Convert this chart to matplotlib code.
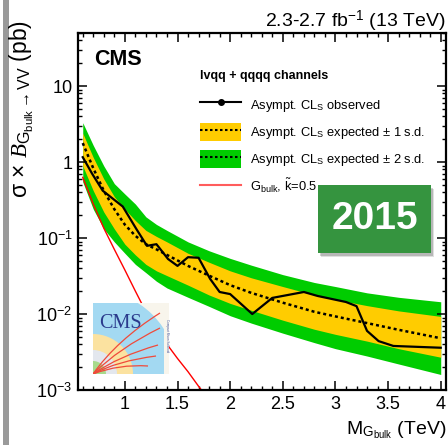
import numpy as np
import matplotlib.pyplot as plt
from matplotlib.patches import Patch, Rectangle, FancyBboxPatch, Wedge, PathPatch
from matplotlib.lines import Line2D
from matplotlib.path import Path
from matplotlib.ticker import (FixedLocator, FixedFormatter, MultipleLocator,
                               LogLocator, NullFormatter, FormatStrFormatter)

plt.rcParams['font.family'] = ['Liberation Sans', 'DejaVu Sans']
plt.rcParams['mathtext.fontset'] = 'custom'
plt.rcParams['mathtext.rm'] = 'Liberation Sans'
plt.rcParams['mathtext.it'] = 'Liberation Serif:italic'
plt.rcParams['mathtext.bf'] = 'Liberation Sans:bold'

# observed limit (pb)
mass_obs = [0.60, 0.69, 0.79, 0.98, 1.11, 1.21, 1.30, 1.41, 1.50, 1.60, 1.70, 1.81,
            1.90, 2.00, 2.21, 2.40, 2.70, 2.83, 3.10, 3.20, 3.30, 3.41, 3.55, 4.00]
observed = [1.16, 0.70, 0.42, 0.26, 0.131, 0.079, 0.083, 0.053, 0.043, 0.056, 0.055, 0.029,
            0.0195, 0.0183, 0.0100, 0.0163, 0.0195, 0.0173, 0.0144, 0.0127, 0.0060, 0.0044,
            0.0038, 0.0036]

# expected limit and bands (pb)
mass_exp = [0.6, 0.7, 0.8, 0.9, 1.0, 1.1, 1.2, 1.3, 1.4, 1.6, 1.8, 2.0, 2.2, 2.5, 2.8,
            3.0, 3.3, 3.6, 4.0]
expected = [1.78, 0.83, 0.42, 0.24, 0.15, 0.107, 0.083, 0.071, 0.060, 0.043, 0.032, 0.024,
            0.019, 0.0141, 0.0107, 0.0093, 0.0076, 0.0062, 0.0048]
two_sd_hi = [3.3, 1.66, 0.89, 0.52, 0.38, 0.28, 0.19, 0.151, 0.126, 0.089, 0.068, 0.054,
             0.044, 0.033, 0.026, 0.023, 0.019, 0.0166, 0.0145]
one_sd_hi = [2.4, 1.15, 0.60, 0.35, 0.24, 0.17, 0.126, 0.105, 0.089, 0.063, 0.048, 0.037,
             0.030, 0.023, 0.0178, 0.0155, 0.0129, 0.011, 0.0093]
one_sd_lo = [0.89, 0.42, 0.22, 0.132, 0.083, 0.060, 0.045, 0.037, 0.032, 0.024, 0.0178,
             0.0138, 0.0112, 0.0083, 0.0063, 0.0054, 0.0044, 0.0035, 0.0027]
two_sd_lo = [0.55, 0.24, 0.132, 0.089, 0.063, 0.045, 0.035, 0.027, 0.022, 0.0166, 0.0126,
             0.0095, 0.0076, 0.0056, 0.0042, 0.0035, 0.0028, 0.0022, 0.0016]

# Gbulk theory, k=0.5 (pb)
mass_th = [0.6, 0.7, 0.8, 0.9, 1.0, 1.1, 1.2, 1.3, 1.4, 1.5, 1.6, 1.7, 1.8]
theory = [0.63, 0.28, 0.135, 0.071, 0.038, 0.020, 0.0107, 0.0063, 0.0040, 0.0026,
          0.00174, 0.00112, 0.00074]

y_ticks = [1e-3, 1e-2, 1e-1, 1, 10]
y_labels = ['$10^{-3}$', '$10^{-2}$', '$10^{-1}$', '1', '10']

GREEN = '#00cc00'
ORANGE = '#ffcc00'

W, H = 448, 445
fig = plt.figure(figsize=(W / 100, H / 100), dpi=100)
ax = fig.add_axes([78 / W, 1 - 390 / H, (446 - 78) / W, (390 - 33) / H])

ax.fill_between(mass_exp, two_sd_lo, two_sd_hi, color=GREEN, lw=0)
ax.fill_between(mass_exp, one_sd_lo, one_sd_hi, color=ORANGE, lw=0)
ax.plot(mass_exp, expected, color='k', lw=1.8, ls=(0, (1.2, 1.2)))
ax.plot(mass_obs, observed, color='k', lw=1.6)
ax.plot(mass_th, theory, color='#ff0000', lw=1.0)

ax.set_yscale('log')
ax.set_xlim(0.555, 4.05)
ax.set_ylim(1e-3, 50)
ax.yaxis.set_major_locator(FixedLocator(y_ticks))
ax.yaxis.set_major_formatter(FixedFormatter(y_labels))
ax.yaxis.set_minor_locator(LogLocator(base=10, subs=np.arange(2, 10)))
ax.yaxis.set_minor_formatter(NullFormatter())
ax.xaxis.set_major_locator(MultipleLocator(0.5))
ax.xaxis.set_minor_locator(MultipleLocator(0.1))
ax.xaxis.set_major_formatter(FormatStrFormatter('%g'))
ax.tick_params(which='both', direction='in', top=True, right=True, labelsize=13)
ax.tick_params(which='major', length=6.5, width=1.1, pad=4)
ax.tick_params(which='minor', length=3.2, width=1.0)
for s in ax.spines.values():
    s.set_linewidth(1.6)

# texts
ax.text(0.045, 0.955, 'CMS', transform=ax.transAxes, fontsize=15.5,
        fontweight='bold', ha='left', va='top')
fig.text(446 / W, 1 - 21 / H, '2.3-2.7 fb$^{-1}$ (13 TeV)', ha='right',
         va='center', fontsize=14)
fig.text(446 / W, 1 - 430 / H, r'M$_{\mathrm{G_{bulk}}}$ (TeV)', ha='right',
         va='center', fontsize=14)
fig.text(22 / W, 1 - 198 / H,
         r'σ × $\mathit{B}_{\mathrm{G_{bulk}\rightarrow VV}}$ (pb)',
         rotation=90, ha='center', va='bottom', fontsize=16.5)

# legend
dots = dict(color='k', lw=1.5, ls=(0, (1.2, 1.2)))
handles = [
    Line2D([], [], color='k', lw=1.5, marker='o', ms=4),
    (Patch(fc=ORANGE, lw=0), Line2D([], [], **dots)),
    (Patch(fc=GREEN, lw=0), Line2D([], [], **dots)),
    Line2D([], [], color='#ff5c5c', lw=1.5),
]
labels = [
    r'Asympt. CL$_\mathrm{S}$ observed',
    r'Asympt. CL$_\mathrm{S}$ expected ± 1 s.d.',
    r'Asympt. CL$_\mathrm{S}$ expected ± 2 s.d.',
    r'G$_\mathrm{bulk}$, $\tilde{\mathrm{k}}$=0.5',
]
leg = ax.legend(handles, labels, loc='upper left',
                bbox_to_anchor=(200 / W, 1 - 70 / H), bbox_transform=fig.transFigure,
                frameon=False, fontsize=9.3, title='lvqq + qqqq channels',
                title_fontproperties={'weight': 'bold', 'size': 9},
                alignment='left', borderpad=0, borderaxespad=0,
                handlelength=3.2, handleheight=1.75, handletextpad=0.7,
                labelspacing=0.7)
leg._legend_box.sep = 10

# 2015 badge
bx, by, bw, bh = 318 / W, 1 - 253 / H, 113 / W, 68 / H
for off, a in [(3, 0.12), (2, 0.18)]:
    fig.add_artist(FancyBboxPatch((bx + off / W, by - (off + 1) / H), bw, bh,
                                  boxstyle='square,pad=0', transform=fig.transFigure,
                                  fc='black', ec='none', alpha=a))
fig.add_artist(FancyBboxPatch((bx, by), bw, bh, boxstyle='square,pad=0',
                              transform=fig.transFigure, fc='#35943f', ec='none'))
fig.text(bx + bw / 2, by + bh / 2, '2015', color='white', fontsize=28,
         fontweight='bold', ha='center', va='center')

# CMS logo inset
lax = fig.add_axes([93 / W, 1 - 374 / H, 76 / W, 71 / H])
lax.set_xlim(0, 76)
lax.set_ylim(0, 71)
lax.axis('off')
lax.add_patch(Rectangle((0, 0), 76, 71, fc='#f8f5ec', ec='none'))
lax.add_patch(Wedge((0, 0), 84, 0, 90, fc='#a3d9f2', ec='none'))
lax.add_patch(Rectangle((71, 0), 5, 71, fc='#f8f5ec', ec='none'))
lax.add_patch(Wedge((0, 0), 40, 0, 90, fc='#fbe2a0', ec='none'))
lax.add_patch(Wedge((0, 0), 24, 0, 90, fc='#e3e7ee', ec='none'))
lax.add_patch(Wedge((0, 0), 13, 0, 90, fc='#a8da8c', ec='none'))
for ctrl, end in [((24, 34), (67, 61)), ((26, 26), (67, 46)), ((26, 18), (65, 29)),
                  ((24, 13), (63, 18)), ((26, 10), (55, 8))]:
    p = Path([(0, 0), ctrl, end], [Path.MOVETO, Path.CURVE3, Path.CURVE3])
    lax.add_patch(PathPatch(p, fill=False, ec='#f04a3a', lw=0.9))
lax.text(6, 60, 'CMS', family='Liberation Serif', fontsize=14.5, color='#2a3a8c',
         ha='left', va='top')
lax.text(73.5, 55, 'Compact Muon Solenoid', rotation=-90, fontsize=2.2,
         color='#4a5aa0', ha='center', va='top')

# grey strip at the left edge
fig.add_artist(Rectangle((3 / W, 0), 6 / W, 1, transform=fig.transFigure,
                         fc='#9a9a9a', ec='none'))

fig.savefig('out.png', dpi=100)
